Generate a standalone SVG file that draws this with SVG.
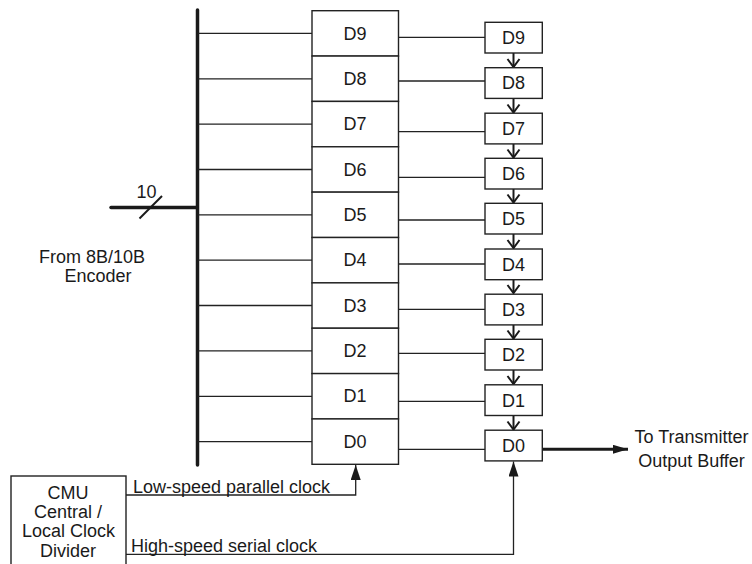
<svg xmlns="http://www.w3.org/2000/svg" width="752" height="564" viewBox="0 0 752 564">
<style>
text{font-family:"Liberation Sans",Arial,sans-serif;font-size:18px;fill:#1a1a1a}
.c{text-anchor:middle}
.box{fill:#fff;stroke:#222;stroke-width:1.4}
.ln{fill:none;stroke:#222;stroke-width:1.3}
.thick{fill:none;stroke:#1a1a1a;stroke-width:3.5;stroke-linecap:round}
.chev{fill:none;stroke:#1a1a1a;stroke-width:2}
</style>
<defs>
<marker id="tri" markerUnits="userSpaceOnUse" markerWidth="16" markerHeight="12" refX="15" refY="5" orient="auto">
<path d="M0,0 L15,5 L0,10 Z" fill="#1a1a1a"/>
</marker>
<marker id="tri2" markerUnits="userSpaceOnUse" markerWidth="16" markerHeight="12" refX="15" refY="4.5" orient="auto">
<path d="M0,0 L15,4.5 L0,9 Z" fill="#1a1a1a"/>
</marker>
</defs>
<rect width="752" height="564" fill="#fff"/>

<g id="connectors">
<line class="thick" x1="197.5" y1="10" x2="197.5" y2="465"/>
<line class="thick" x1="111" y1="207.5" x2="197" y2="207.5"/>
<line x1="139.5" y1="218.5" x2="162" y2="196" stroke="#1a1a1a" stroke-width="2"/>
<line class="ln" x1="198" y1="33.4" x2="312" y2="33.4"/>
<line class="ln" x1="198" y1="78.8" x2="312" y2="78.8"/>
<line class="ln" x1="198" y1="124.1" x2="312" y2="124.1"/>
<line class="ln" x1="198" y1="169.5" x2="312" y2="169.5"/>
<line class="ln" x1="198" y1="214.8" x2="312" y2="214.8"/>
<line class="ln" x1="198" y1="260.2" x2="312" y2="260.2"/>
<line class="ln" x1="198" y1="305.5" x2="312" y2="305.5"/>
<line class="ln" x1="198" y1="350.9" x2="312" y2="350.9"/>
<line class="ln" x1="198" y1="396.3" x2="312" y2="396.3"/>
<line class="ln" x1="198" y1="441.6" x2="312" y2="441.6"/>
<line class="ln" x1="398.5" y1="37.3" x2="485" y2="37.3"/>
<line class="ln" x1="398.5" y1="81" x2="485" y2="81"/>
<line class="ln" x1="398.5" y1="131.7" x2="485" y2="131.7"/>
<line class="ln" x1="398.5" y1="177.3" x2="485" y2="177.3"/>
<line class="ln" x1="398.5" y1="220" x2="485" y2="220"/>
<line class="ln" x1="398.5" y1="264" x2="485" y2="264"/>
<line class="ln" x1="398.5" y1="309.3" x2="485" y2="309.3"/>
<line class="ln" x1="398.5" y1="353.3" x2="485" y2="353.3"/>
<line class="ln" x1="398.5" y1="401.3" x2="485" y2="401.3"/>
<line class="ln" x1="398.5" y1="449.3" x2="485" y2="449.3"/>
<g class="chev">
<line x1="513.5" y1="53" x2="513.5" y2="67"/><polyline points="507.5,59 513.5,67 519.5,59"/>
<line x1="513.5" y1="98.5" x2="513.5" y2="112.5"/><polyline points="507.5,104.5 513.5,112.5 519.5,104.5"/>
<line x1="513.5" y1="144" x2="513.5" y2="157.5"/><polyline points="507.5,149.5 513.5,157.5 519.5,149.5"/>
<line x1="513.5" y1="189" x2="513.5" y2="202.5"/><polyline points="507.5,194.5 513.5,202.5 519.5,194.5"/>
<line x1="513.5" y1="234" x2="513.5" y2="248"/><polyline points="507.5,240 513.5,248 519.5,240"/>
<line x1="513.5" y1="279.5" x2="513.5" y2="293"/><polyline points="507.5,285 513.5,293 519.5,285"/>
<line x1="513.5" y1="325" x2="513.5" y2="338.5"/><polyline points="507.5,330.5 513.5,338.5 519.5,330.5"/>
<line x1="513.5" y1="370" x2="513.5" y2="384"/><polyline points="507.5,376 513.5,384 519.5,376"/>
<line x1="513.5" y1="415.5" x2="513.5" y2="429.5"/><polyline points="507.5,421.5 513.5,429.5 519.5,421.5"/>
</g>
<line x1="542.5" y1="449.3" x2="628" y2="449.3" stroke="#1a1a1a" stroke-width="3" marker-end="url(#tri2)"/>
<polyline class="ln" points="126,495 355.7,495 355.7,465" marker-end="url(#tri)"/>
<polyline class="ln" points="126,554.3 513.5,554.3 513.5,461.5" marker-end="url(#tri)"/>
</g>

<g id="left-regs">
<rect class="box" x="312" y="10.7" width="86.5" height="45.36"/>
<rect class="box" x="312" y="56.06" width="86.5" height="45.36"/>
<rect class="box" x="312" y="101.42" width="86.5" height="45.36"/>
<rect class="box" x="312" y="146.78" width="86.5" height="45.36"/>
<rect class="box" x="312" y="192.14" width="86.5" height="45.36"/>
<rect class="box" x="312" y="237.5" width="86.5" height="45.36"/>
<rect class="box" x="312" y="282.86" width="86.5" height="45.36"/>
<rect class="box" x="312" y="328.22" width="86.5" height="45.36"/>
<rect class="box" x="312" y="373.58" width="86.5" height="45.36"/>
<rect class="box" x="312" y="418.94" width="86.5" height="45.36"/>
<text class="c" x="355" y="39.5">D9</text>
<text class="c" x="355" y="84.9">D8</text>
<text class="c" x="355" y="130.2">D7</text>
<text class="c" x="355" y="175.6">D6</text>
<text class="c" x="355" y="220.9">D5</text>
<text class="c" x="355" y="266.3">D4</text>
<text class="c" x="355" y="311.6">D3</text>
<text class="c" x="355" y="357">D2</text>
<text class="c" x="355" y="402.4">D1</text>
<text class="c" x="355" y="447.7">D0</text>
</g>

<g id="right-regs">
<rect class="box" x="485" y="22.3" width="57.3" height="30.7"/>
<rect class="box" x="485" y="67.7" width="57.3" height="30.7"/>
<rect class="box" x="485" y="113.2" width="57.3" height="30.7"/>
<rect class="box" x="485" y="158.3" width="57.3" height="30.7"/>
<rect class="box" x="485" y="203.3" width="57.3" height="30.7"/>
<rect class="box" x="485" y="249" width="57.3" height="30.7"/>
<rect class="box" x="485" y="294.2" width="57.3" height="30.7"/>
<rect class="box" x="485" y="339.3" width="57.3" height="30.7"/>
<rect class="box" x="485" y="384.8" width="57.3" height="30.7"/>
<rect class="box" x="485" y="430.2" width="57.3" height="30.7"/>
<text class="c" x="513.5" y="44">D9</text>
<text class="c" x="513.5" y="89.4">D8</text>
<text class="c" x="513.5" y="134.9">D7</text>
<text class="c" x="513.5" y="180">D6</text>
<text class="c" x="513.5" y="225">D5</text>
<text class="c" x="513.5" y="270.7">D4</text>
<text class="c" x="513.5" y="315.9">D3</text>
<text class="c" x="513.5" y="361">D2</text>
<text class="c" x="513.5" y="406.5">D1</text>
<text class="c" x="513.5" y="451.9">D0</text>
</g>

<g id="cmu">
<rect class="box" x="11" y="476" width="115" height="100"/>
<text class="c" x="68" y="498.5">CMU</text>
<text class="c" x="68" y="518">Central /</text>
<text class="c" x="68.5" y="537.3">Local Clock</text>
<text class="c" x="68" y="556.7">Divider</text>
</g>

<g id="labels">
<text x="146.5" y="197.5" text-anchor="middle">10</text>
<text class="c" x="92" y="262.7">From 8B/10B</text>
<text class="c" x="98" y="282">Encoder</text>
<text x="133" y="492.5">Low-speed parallel clock</text>
<text x="131" y="552">High-speed serial clock</text>
<text class="c" x="691.5" y="443">To Transmitter</text>
<text class="c" x="691.5" y="467">Output Buffer</text>
</g>
</svg>
